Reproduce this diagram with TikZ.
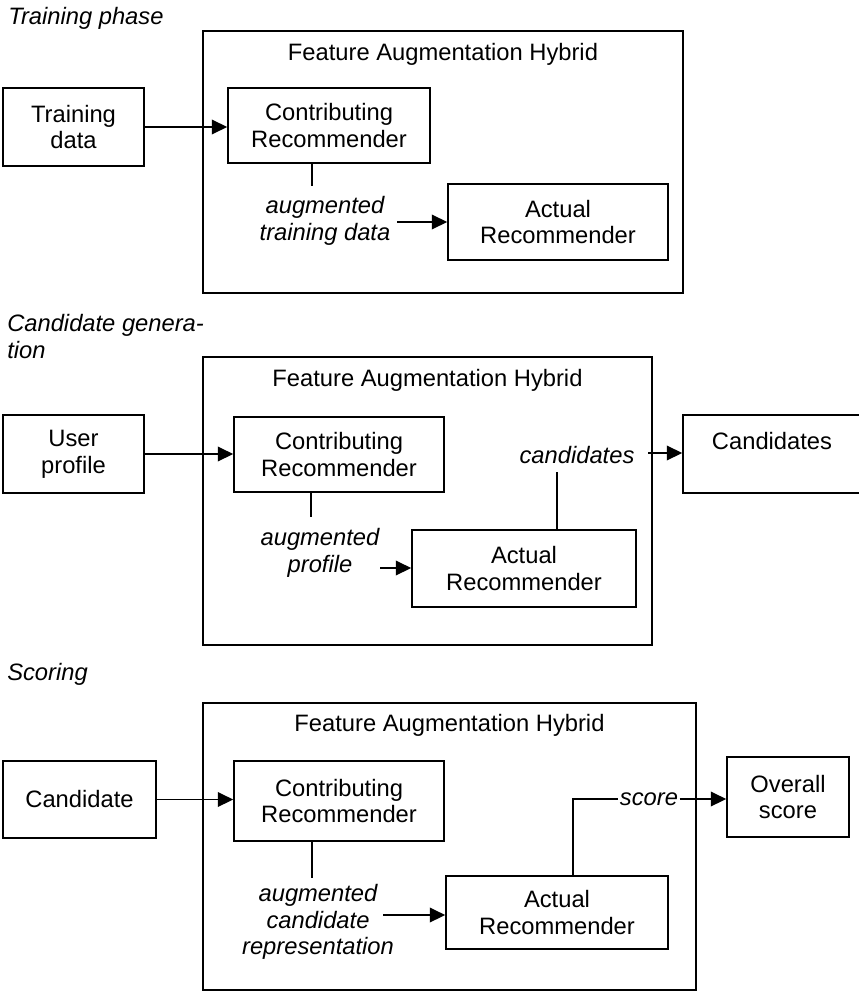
\documentclass[tikz,border=0pt]{standalone}
\usepackage{fontspec}
\setmainfont{Liberation Sans}
\usetikzlibrary{arrows.meta,calc}

\newcommand\figfont{\fontsize{17.8}{20}\selectfont}

\tikzset{
  box/.style={draw, line width=1.3pt, inner sep=0pt, align=center},
  boxsize/.style 2 args={minimum width=#1*0.75pt, minimum height=#2*0.75pt},
  flow/.style={line width=1.2pt},
  arr/.style={flow, -{Triangle[length=11.5pt,width=11pt]}},
  data/.style={font=\figfont\itshape, align=center, inner sep=0pt},
  phase/.style={font=\figfont\itshape, align=left, inner sep=0pt, anchor=base west},
}

\begin{document}
\begin{tikzpicture}[x=0.75pt,y=-0.75pt,font=\figfont] % pixel grid, y down

\useasboundingbox (0,0) rectangle (859,991);
\clip (0,0) rectangle (859,991);

%% training phase
\node[phase] (ph1) at (8,25) {Training phase};
\node[box,boxsize={480}{262}] (hyb1) at (443,162) {};
\node[anchor=base] (tit1) at ($(hyb1.north)+(0,30)$) {Feature Augmentation Hybrid};
\node[box,boxsize={141}{78}] (train) at (73.5,127) {Training\\data};
\node[box,boxsize={202}{75}] (cr1) at (329,125.5) {Contributing\\Recommender};
\node[box,boxsize={220}{76}] (ar1) at (558,222) {Actual\\Recommender};
\node[data] (aug1) at (325,221) {augmented\\training data};
\coordinate (st1) at (312,186);
\coordinate (in1) at (397,222);

\draw[arr] (train.east) -- (train.east -| cr1.west);
\draw[flow] (cr1.south -| st1) -- (st1);
\draw[arr] (in1) -- (in1 -| ar1.west);

%% candidate generation
\node[phase] (ph2) at (7,358) {Candidate genera-\\tion};
\node[box,boxsize={449}{288}] (hyb2) at (427.5,501) {};
\node[anchor=base] (tit2) at ($(hyb2.north)+(0,30)$) {Feature Augmentation Hybrid};
\node[box,boxsize={141}{78}] (user) at (73.5,454) {User\\profile};
\node[box,boxsize={210}{75}] (cr2) at (339,454.5) {Contributing\\Recommender};
\node[box,boxsize={224}{77}] (ar2) at (524,568.5) {Actual\\Recommender};
\node[box,boxsize={178}{78}] (cands) at (772,454) {Candidates\\ \mbox{}};
\node[data] (aug2) at (320,553) {augmented\\profile};
\node[data] (cnd) at (577,455) {candidates};
\coordinate (st2) at (311,517);
\coordinate (in2) at (380,568);
\coordinate (up2) at (557,472);
\coordinate (out2) at (648,453);

\draw[arr] (user.east) -- (user.east -| cr2.west);
\draw[flow] (cr2.south -| st2) -- (st2);
\draw[arr] (in2) -- (in2 -| ar2.west);
\draw[flow] (ar2.north -| up2) -- (up2);
\draw[arr] (out2) -- (out2 -| cands.west);

%% scoring
\node[phase] (ph3) at (7,680) {Scoring};
\node[box,boxsize={493}{287}] (hyb3) at (449.5,846.5) {};
\node[anchor=base] (tit3) at ($(hyb3.north)+(0,29)$) {Feature Augmentation Hybrid};
\node[box,boxsize={153}{77}] (cand) at (79.5,799.5) {Candidate};
\node[box,boxsize={210}{80}] (cr3) at (339,801) {Contributing\\Recommender};
\node[box,boxsize={222}{73}] (ar3) at (557,912.5) {Actual\\Recommender};
\node[box,boxsize={122}{80}] (overall) at (788,797) {Overall\\score};
\node[data] (aug3) at (318,922) {augmented\\candidate\\representation};
\node[data,inner sep=1pt] (score) at (649,799) {score};
\coordinate (st3) at (312,878);
\coordinate (in3) at (383,915);
\coordinate (up3) at (573,799);

\draw[arr] (cand.east) -- (cand.east -| cr3.west);
\draw[flow] (cr3.south -| st3) -- (st3);
\draw[arr] (in3) -- (in3 -| ar3.west);
\draw[flow] (ar3.north -| up3) |- (score.west);
\draw[arr] (score.east) -- (score.east -| overall.west);

\end{tikzpicture}
\end{document}
